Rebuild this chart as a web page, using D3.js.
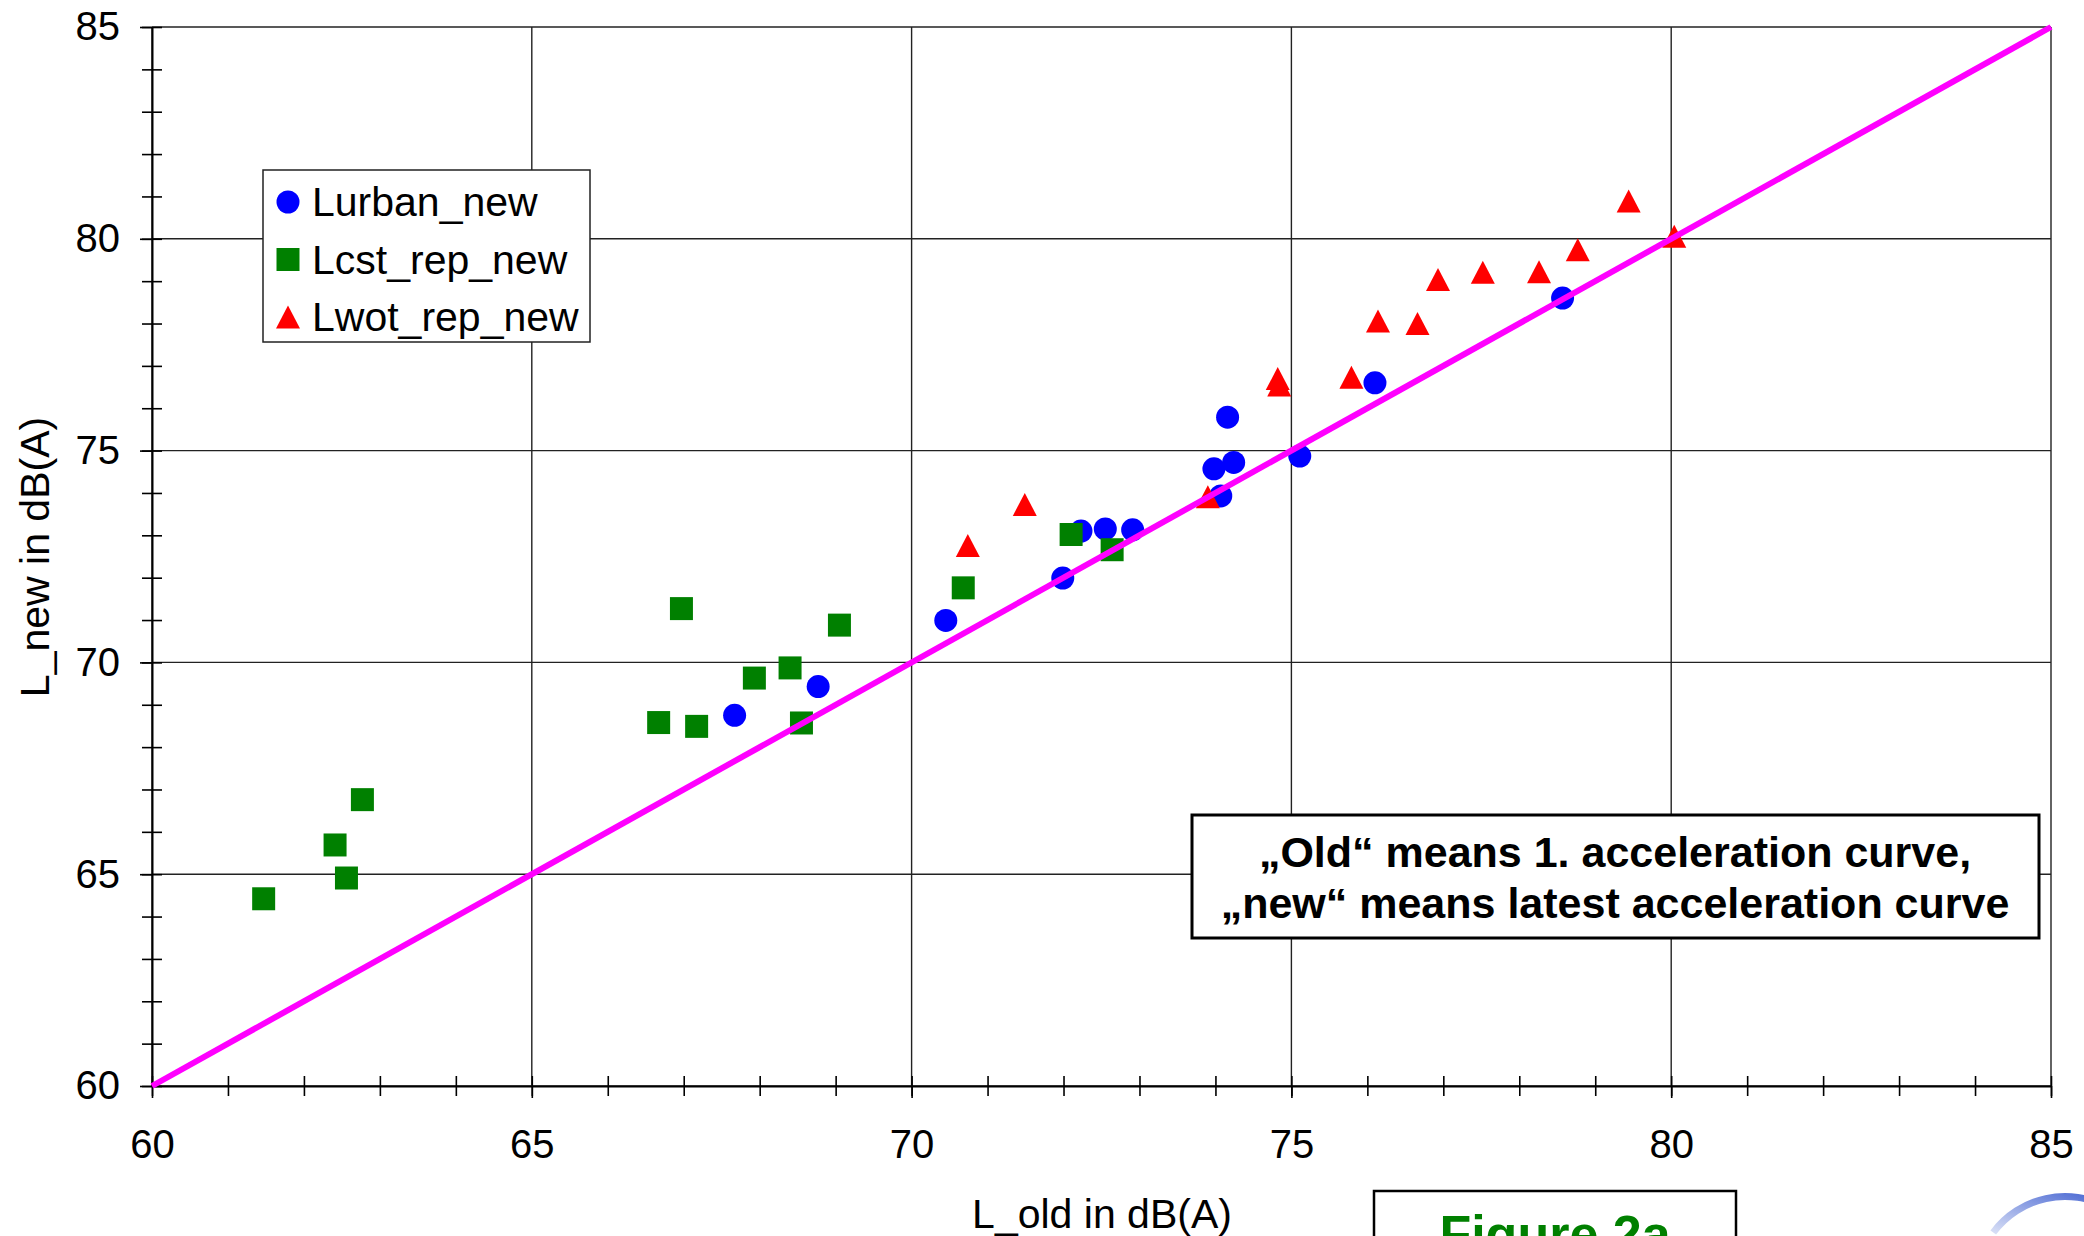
<!DOCTYPE html>
<html>
<head>
<meta charset="utf-8">
<script src="https://cdn.jsdelivr.net/npm/d3@7"></script>
<style>
  body { margin: 0; background: #fff; }
  svg { display: block; font-family: Arial, 'Liberation Sans', sans-serif; }
  .grid line { stroke: #222; stroke-width: 1.4; }
  .axis .domain { stroke: #000; stroke-width: 2; }
  .axis line { stroke: #000; stroke-width: 1.6; }
  .axis text { font-size: 40px; fill: #000; }
  .axis-label { font-size: 41px; fill: #000; }
</style>
</head>
<body>
<svg width="2084" height="1236"></svg>
<script>
// data: [L_old, L_new]
const urbanOld = [67.67, 68.77, 70.45, 71.99, 72.23, 72.55, 72.91, 73.98, 74.07, 74.16, 74.24, 75.11, 76.10, 78.57]
const urbanNew = [68.75, 69.43, 70.99, 71.99, 73.10, 73.15, 73.13, 74.57, 73.93, 75.79, 74.72, 74.87, 76.60, 78.60]

const cstOld = [61.47, 62.41, 62.56, 62.77, 66.67, 66.97, 67.17, 67.93, 68.40, 68.55, 69.05, 70.68, 72.10, 72.64]
const cstNew = [64.42, 65.69, 64.91, 66.76, 68.58, 71.27, 68.49, 69.63, 69.87, 68.57, 70.88, 71.76, 73.02, 72.66]

const wotOld = [70.74, 71.49, 73.90, 74.82, 74.84, 75.79, 76.14, 76.66, 76.93, 77.52, 78.26, 78.77, 79.44, 80.04]
const wotNew = [72.76, 73.73, 73.91, 76.70, 76.55, 76.73, 78.06, 78.00, 79.04, 79.21, 79.22, 79.74, 80.89, 80.06]

const diagonal = [60, 85]
const majorTicks = [60, 65, 70, 75, 80, 85]
const minorTicks = d3.range(60, 86, 1)

const seriesNames = ['Lurban_new', 'Lcst_rep_new', 'Lwot_rep_new']
const noteLines = ['\u201EOld\u201C means 1. acceleration curve,', '\u201Enew\u201C means latest acceleration curve']
const figureLabel = 'Figure 2a'

const svg = d3.select('svg')
const width = +svg.attr('width')
const height = +svg.attr('height')
const margin = { top: 27, right: 33, bottom: 150, left: 152 }
const innerWidth = width - margin.left - margin.right
const innerHeight = height - margin.top - margin.bottom

const xScale = d3.scaleLinear().domain([60, 85]).range([0, innerWidth])
const yScale = d3.scaleLinear().domain([60, 85]).range([innerHeight, 0])

const g = svg.append('g')
  .attr('transform', `translate(${margin.left}, ${margin.top})`)

// gridlines
const grid = g.append('g').attr('class', 'grid')
grid.selectAll('.gx').data(majorTicks).join('line')
  .attr('x1', d => xScale(d)).attr('x2', d => xScale(d))
  .attr('y1', 0).attr('y2', innerHeight)
grid.selectAll('.gy').data(majorTicks).join('line')
  .attr('y1', d => yScale(d)).attr('y2', d => yScale(d))
  .attr('x1', 0).attr('x2', innerWidth)

// minor ticks crossing the axes
const xMinor = g.append('g').attr('class', 'axis')
  .attr('transform', `translate(0, ${innerHeight})`)
  .call(d3.axisBottom(xScale).tickValues(minorTicks).tickSize(10).tickFormat(''))
xMinor.selectAll('.tick line').attr('y1', -10)
xMinor.selectAll('.tick text').remove()
xMinor.select('.domain').remove()

const yMinor = g.append('g').attr('class', 'axis')
  .call(d3.axisLeft(yScale).tickValues(minorTicks).tickSize(10).tickFormat(''))
yMinor.selectAll('.tick line').attr('x1', 10)
yMinor.selectAll('.tick text').remove()
yMinor.select('.domain').remove()

// major axes
const xAxisGroup = g.append('g').attr('class', 'axis')
  .attr('transform', `translate(0, ${innerHeight})`)
  .call(d3.axisBottom(xScale).tickValues(majorTicks).tickSize(12).tickSizeOuter(0).tickPadding(32))

const yAxisGroup = g.append('g').attr('class', 'axis')
  .call(d3.axisLeft(yScale).tickValues(majorTicks).tickSize(12).tickSizeOuter(0).tickPadding(20))

g.append('text')
  .attr('class', 'axis-label')
  .attr('x', 1102 - margin.left)
  .attr('y', innerHeight + 142)
  .attr('text-anchor', 'middle')
  .text('L_old in dB(A)')

g.append('text')
  .attr('class', 'axis-label')
  .attr('transform', `translate(${49 - margin.left}, ${557 - margin.top}) rotate(-90)`)
  .attr('text-anchor', 'middle')
  .text('L_new in dB(A)')

// marker shapes
const tri = {
  draw(ctx, size) {
    const w = Math.sqrt(size), h = w * 0.96
    ctx.moveTo(0, -h / 2)
    ctx.lineTo(w / 2, h / 2)
    ctx.lineTo(-w / 2, h / 2)
    ctx.closePath()
  }
}
const shapes = [d3.symbol(d3.symbolCircle, Math.PI * 11.5 * 11.5),
  d3.symbol(d3.symbolSquare, 23 * 23),
  d3.symbol(tri, 24 * 24)]
const colors = ['#0000ff', '#008000', '#ff0000']

const series = [
  d3.zip(urbanOld, urbanNew),
  d3.zip(cstOld, cstNew),
  d3.zip(wotOld, wotNew)
]

series.forEach((pts, i) => {
  g.append('g').selectAll('path').data(pts).join('path')
    .attr('d', shapes[i])
    .attr('transform', d => `translate(${xScale(d[0])}, ${yScale(d[1])})`)
    .attr('fill', colors[i])
})

// 1:1 line
const lineGenerator = d3.line()
  .x(d => xScale(d))
  .y(d => yScale(d))

g.append('path')
  .attr('d', lineGenerator(diagonal))
  .attr('fill', 'none')
  .attr('stroke', '#ff00ff')
  .attr('stroke-width', 6)

// legend
const legend = svg.append('g').attr('transform', 'translate(263, 170)')
legend.append('rect')
  .attr('width', 327).attr('height', 172)
  .attr('fill', '#fff').attr('stroke', '#222').attr('stroke-width', 1.5)
seriesNames.forEach((name, i) => {
  const y = 32 + i * 57.5
  legend.append('path')
    .attr('d', shapes[i])
    .attr('transform', `translate(25, ${y})`)
    .attr('fill', colors[i])
  legend.append('text')
    .attr('x', 49).attr('y', y + 14)
    .attr('font-size', 41)
    .text(name)
})

// note box
const note = svg.append('g').attr('transform', 'translate(1192, 815)')
note.append('rect')
  .attr('width', 847).attr('height', 123)
  .attr('fill', '#fff').attr('stroke', '#000').attr('stroke-width', 3)
noteLines.forEach((t, i) => {
  note.append('text')
    .attr('x', 423).attr('y', 52 + i * 51)
    .attr('text-anchor', 'middle')
    .attr('font-size', 43).attr('font-weight', 'bold')
    .text(t)
})

// figure label box (cut off by the page edge)
svg.append('rect')
  .attr('x', 1374).attr('y', 1191)
  .attr('width', 362).attr('height', 80)
  .attr('fill', '#fff').attr('stroke', '#000').attr('stroke-width', 2.5)
svg.append('text')
  .attr('x', 1555).attr('y', 1252)
  .attr('text-anchor', 'middle')
  .attr('font-size', 52).attr('font-weight', 'bold')
  .attr('fill', '#008000')
  .text(figureLabel)

// logo arc in the corner
const grad = svg.append('defs').append('linearGradient')
  .attr('id', 'arcgrad').attr('x1', '0').attr('x2', '1').attr('y1', '1').attr('y2', '0')
grad.append('stop').attr('offset', '0').attr('stop-color', '#dde3f7')
grad.append('stop').attr('offset', '1').attr('stop-color', '#3f5fd0')
const arc = d3.arc().innerRadius(86).outerRadius(93)
  .startAngle(-0.93).endAngle(0.5)
svg.append('path')
  .attr('d', arc())
  .attr('transform', 'translate(2065, 1286)')
  .attr('fill', 'url(#arcgrad)')
</script>
</body>
</html>
